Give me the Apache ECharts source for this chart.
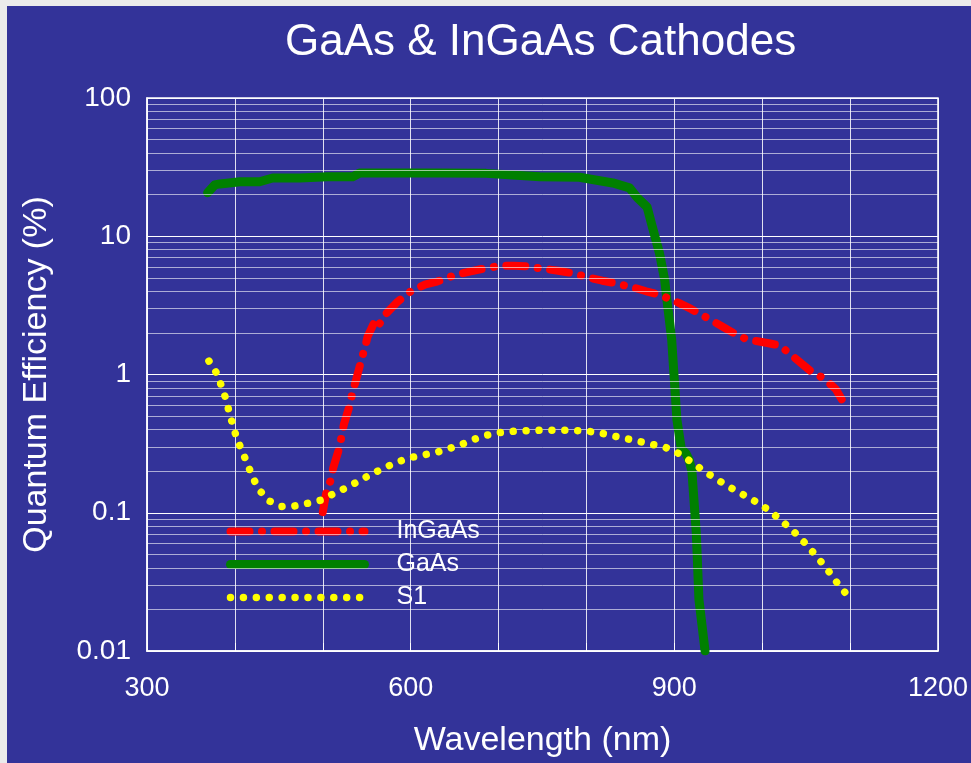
<!DOCTYPE html>
<html>
<head>
<meta charset="utf-8">
<script src="https://cdn.jsdelivr.net/npm/echarts@6/dist/echarts.min.js"></script>
<style>
  html, body { margin: 0; padding: 0; background: #ebebeb; width: 971px; height: 763px; overflow: hidden; }
  #chart { position: absolute; left: 7px; top: 6px; width: 964px; height: 757px; }
</style>
</head>
<body>
<div id="chart"></div>
<script>
// Wavelength (nm) and quantum efficiency (%) for each photocathode
const gaasWavelength = [369, 377, 383, 406, 428, 443, 474, 505, 534, 542, 633, 686, 747, 792, 830, 849, 858, 869, 875, 883, 889, 892, 897, 900, 903, 908, 913, 917, 920, 925, 928, 935];
const gaasQE = [20.6, 23.5, 23.9, 24.8, 24.8, 26.4, 26.4, 26.9, 26.9, 28.7, 28.7, 28.5, 26.9, 26.7, 24.3, 22.4, 19, 16.3, 11.7, 7.6, 4.85, 3.3, 1.79, 0.92, 0.47, 0.288, 0.27, 0.24, 0.2, 0.072, 0.0237, 0.01];

const ingaasWavelength = [500, 504, 509, 512, 519, 524, 531, 534, 538, 544, 548, 551, 559, 562.5, 572, 584, 601, 616, 630, 652, 667, 681, 703, 717, 731, 753, 768, 783, 805, 818, 832, 855, 868, 883, 905, 919, 934, 956, 969, 983, 1006, 1020, 1034, 1056, 1071, 1084, 1096];
const ingaasQE = [0.101, 0.14, 0.172, 0.212, 0.297, 0.435, 0.607, 0.753, 0.92, 1.28, 1.57, 1.88, 2.41, 2.22, 2.75, 3.31, 4.04, 4.46, 4.7, 5.27, 5.54, 5.8, 6.13, 6.13, 6.06, 5.8, 5.63, 5.42, 4.99, 4.77, 4.59, 4.23, 4.0, 3.78, 3.3, 2.98, 2.64, 2.2, 1.97, 1.79, 1.69, 1.62, 1.37, 1.046, 0.931, 0.78, 0.575];

const s1Wavelength = [370.5, 380, 385, 390, 393.5, 397.7, 402, 408, 414, 419.7, 427, 438.6, 453.4, 468, 482.6, 497, 511, 526, 540.6, 555, 569.7, 584.5, 599, 613, 628, 644, 658, 672, 686, 701, 720, 750, 780, 800, 818, 832, 846, 861, 875, 890, 904.5, 919, 934, 948, 963, 977.6, 992, 1007, 1021, 1035.6, 1049.7, 1062, 1074, 1085, 1096.6];
const s1QE = [1.25, 1.005, 0.815, 0.66, 0.534, 0.43, 0.347, 0.281, 0.228, 0.184, 0.148, 0.122, 0.111, 0.112, 0.117, 0.123, 0.136, 0.151, 0.169, 0.19, 0.211, 0.232, 0.25, 0.261, 0.272, 0.292, 0.312, 0.34, 0.363, 0.38, 0.39, 0.395, 0.395, 0.39, 0.375, 0.358, 0.343, 0.327, 0.312, 0.297, 0.269, 0.234, 0.2, 0.175, 0.153, 0.136, 0.121, 0.105, 0.0887, 0.0735, 0.0595, 0.0483, 0.039, 0.0313, 0.0254];

const legendOrder = ['InGaAs', 'GaAs', 'S1'];
const xTickLabels = [300, 600, 900, 1200];
const yTickLabels = ['0.01', '0.1', '1', '10', '100'];

// Log-scale minor gridlines: 2..9 within each decade
const minorGridValues = [];
[0.01, 0.1, 1, 10].forEach(function (d) {
  for (let k = 2; k <= 9; k++) minorGridValues.push(+(d * k).toPrecision(3));
});

function pairs(xs, ys) { return xs.map(function (x, i) { return [x, ys[i]]; }); }

const FONT = '"Liberation Sans", Arial, Helvetica, sans-serif';
const chart = echarts.init(document.getElementById('chart'), null, { renderer: 'canvas' });

chart.setOption({
  backgroundColor: '#333399',
  animation: false,
  title: {
    text: 'GaAs & InGaAs Cathodes',
    left: 273,
    top: 10,
    textStyle: { color: '#ffffff', fontFamily: FONT, fontWeight: 'normal', fontSize: 44 }
  },
  grid: {
    left: 140, top: 92, right: 32, bottom: 111,
    show: true, borderColor: '#ffffff', borderWidth: 1.5, backgroundColor: 'transparent'
  },
  legend: {
    data: legendOrder,
    orient: 'vertical',
    left: 219,
    top: 513,
    padding: 0,
    itemWidth: 134,
    itemHeight: 14,
    itemGap: 8,
    selectedMode: false,
    itemStyle: { opacity: 0 },
    lineStyle: { width: 'inherit', type: 'inherit', cap: 'inherit' },
    formatter: function (name) { return '{t|' + name + '}'; },
    textStyle: {
      color: '#ffffff', fontFamily: FONT, fontSize: 25,
      rich: { t: { color: '#ffffff', fontFamily: FONT, fontSize: 25, padding: [0, 0, 0, 27] } }
    }
  },
  xAxis: {
    type: 'value',
    min: 300, max: 1200, interval: 100,
    name: 'Wavelength (nm)',
    nameLocation: 'middle',
    nameGap: 73,
    nameTextStyle: { color: '#ffffff', fontFamily: FONT, fontSize: 34 },
    axisLine: { show: true, lineStyle: { color: '#ffffff', width: 1.5 } },
    axisTick: { show: true, inside: true, length: 8, lineStyle: { color: '#ffffff' } },
    axisLabel: {
      color: '#ffffff', fontFamily: FONT, fontSize: 27, margin: 24,
      formatter: function (v) { return xTickLabels.indexOf(v) >= 0 ? String(v) : ''; }
    },
    splitLine: { show: true, lineStyle: { color: 'rgba(255,255,255,0.85)', width: 1 } }
  },
  yAxis: {
    type: 'log',
    logBase: 10,
    min: 0.01, max: 100,
    name: 'Quantum Efficiency (%)',
    nameLocation: 'middle',
    nameGap: 93,
    nameTextStyle: { color: '#ffffff', fontFamily: FONT, fontSize: 34 },
    axisLine: { show: true, lineStyle: { color: '#ffffff', width: 1.5 } },
    axisTick: { show: true, inside: true, length: 8, lineStyle: { color: '#ffffff' } },
    axisLabel: {
      color: '#ffffff', fontFamily: FONT, fontSize: 28, margin: 16,
      formatter: function (v) {
        const hit = yTickLabels.find(function (t) { return Math.abs(Math.log10(+t) - Math.log10(v)) < 1e-6; });
        return hit || '';
      }
    },
    splitLine: { show: true, lineStyle: { color: '#ffffff', width: 1 } }
  },
  series: [
    {
      // minor log gridlines
      name: 'grid-minor',
      type: 'line',
      data: [],
      silent: true,
      z: 1,
      markLine: {
        silent: true,
        symbol: ['none', 'none'],
        label: { show: false },
        animation: false,
        lineStyle: { color: 'rgba(255,255,255,0.6)', width: 1, type: 'solid' },
        data: minorGridValues.map(function (v) { return { yAxis: v }; })
      }
    },
    {
      name: 'GaAs',
      type: 'line',
      data: pairs(gaasWavelength, gaasQE),
      symbol: 'none',
      z: 3,
      lineStyle: { color: '#008000', width: 9, cap: 'round', join: 'round' }
    },
    {
      name: 'InGaAs',
      type: 'line',
      data: pairs(ingaasWavelength, ingaasQE),
      symbol: 'none',
      z: 4,
      lineStyle: { color: '#ff0000', width: 8, type: [19, 12.5, 0.01, 12.5], cap: 'round', join: 'round' }
    },
    {
      name: 'S1',
      type: 'line',
      data: pairs(s1Wavelength, s1QE),
      symbol: 'none',
      z: 5,
      lineStyle: { color: '#ffff00', width: 7.5, type: [0.01, 12.9], cap: 'round', join: 'round' }
    }
  ]
});
</script>
</body>
</html>
